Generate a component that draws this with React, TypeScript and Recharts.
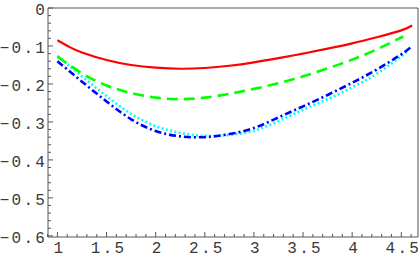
import { Line, LineChart, ReferenceArea, XAxis, YAxis } from "recharts";

const redX = [1, 1.125, 1.25, 1.5, 1.75, 2, 2.25, 2.5, 2.75, 3, 3.25, 3.5, 3.75, 4, 4.25, 4.5, 4.61];
const redY = [-0.085, -0.103, -0.117, -0.137, -0.15, -0.157, -0.16, -0.158, -0.152, -0.143, -0.132, -0.12, -0.107, -0.093, -0.077, -0.059, -0.046];

const greenX = [1, 1.25, 1.5, 1.75, 2, 2.25, 2.5, 2.75, 3, 3.25, 3.5, 3.75, 4, 4.25, 4.52];
const greenY = [-0.128, -0.172, -0.204, -0.224, -0.236, -0.24, -0.236, -0.226, -0.213, -0.198, -0.18, -0.159, -0.136, -0.109, -0.075];

const cyanX = [1, 1.25, 1.5, 1.75, 2, 2.25, 2.5, 2.75, 3, 3.25, 3.5, 3.75, 4, 4.25, 4.5, 4.56];
const cyanY = [-0.126, -0.18, -0.232, -0.279, -0.311, -0.329, -0.337, -0.334, -0.323, -0.298, -0.268, -0.24, -0.209, -0.173, -0.127, -0.113];

const blueX = [1, 1.25, 1.5, 1.75, 2, 2.25, 2.5, 2.75, 3, 3.25, 3.5, 3.75, 4, 4.25, 4.5, 4.6];
const blueY = [-0.14, -0.194, -0.246, -0.293, -0.324, -0.338, -0.34, -0.332, -0.316, -0.288, -0.259, -0.229, -0.197, -0.162, -0.122, -0.102];

const xMajor = [1, 1.5, 2, 2.5, 3, 3.5, 4, 4.5];
const yMajor = [0, -0.1, -0.2, -0.3, -0.4, -0.5, -0.6];

const X_DOMAIN: [number, number] = [0.904, 4.67];
const Y_DOMAIN: [number, number] = [-0.603, 0];

// minor ticks: 4 between each pair of major ticks
const xTicks: number[] = [];
for (let i = 9; i <= 46; i++) xTicks.push(i / 10);
const yTicks: number[] = [];
for (let i = 0; i <= 30; i++) yTicks.push(-(i * 2) / 100);

const toRows = (xs: number[], ys: number[]) => xs.map((x, i) => ({ x, y: ys[i] }));

const isMajor = (v: number, majors: number[]) => majors.some((m) => Math.abs(m - v) < 1e-6);

const fmt = (v: number) => (v < 0 ? "\u2212" + String(-v) : String(v));

const FRAME = "#555";
const TEXT = "#3a3a3a";

function FrameTick(props: any) {
  const { x, y, payload, side, majors, labels } = props;
  const major = isMajor(payload.value, majors);
  const len = major ? 5 : 3;
  let line;
  if (side === "bottom") line = <line x1={x} y1={y} x2={x} y2={y - len} stroke={FRAME} strokeWidth={1} />;
  else if (side === "top") line = <line x1={x} y1={y} x2={x} y2={y + len} stroke={FRAME} strokeWidth={1} />;
  else if (side === "left") line = <line x1={x} y1={y} x2={x + len} y2={y} stroke={FRAME} strokeWidth={1} />;
  else line = <line x1={x} y1={y} x2={x - len} y2={y} stroke={FRAME} strokeWidth={1} />;
  let label = null;
  if (labels && major) {
    const common = {
      fill: TEXT,
      fontFamily: "Liberation Mono, monospace",
      fontSize: 16,
      letterSpacing: 2.2
    };
    if (side === "bottom")
      label = (
        <text x={x + 2} y={y + 16} textAnchor="middle" {...common}>
          {fmt(payload.value)}
        </text>
      );
    if (side === "left")
      label = (
        <text x={x - 1} y={y + 7} textAnchor="end" {...common}>
          {fmt(payload.value)}
        </text>
      );
  }
  return (
    <g>
      {line}
      {label}
    </g>
  );
}

export default function App() {
  return (
    <div style={{ position: "absolute", left: 0, top: 0, width: 420, height: 260, background: "#fff" }}>
      <LineChart width={420} height={260} margin={{ top: 8, right: 2, bottom: 0, left: 0 }}>
        <XAxis
          xAxisId="b"
          type="number"
          dataKey="x"
          domain={X_DOMAIN}
          allowDataOverflow
          ticks={xTicks}
          interval={0}
          height={23}
          tickSize={0}
          tickMargin={0}
          axisLine={false}
          tickLine={false}
          tick={<FrameTick side="bottom" majors={xMajor} labels />}
        />
        <XAxis
          xAxisId="t"
          orientation="top"
          type="number"
          dataKey="x"
          domain={X_DOMAIN}
          allowDataOverflow
          ticks={xTicks}
          interval={0}
          height={0}
          tickSize={0}
          tickMargin={0}
          axisLine={false}
          tickLine={false}
          tick={<FrameTick side="top" majors={xMajor} />}
        />
        <YAxis
          yAxisId="l"
          type="number"
          domain={Y_DOMAIN}
          allowDataOverflow
          ticks={yTicks}
          interval={0}
          width={48}
          tickSize={0}
          tickMargin={0}
          axisLine={false}
          tickLine={false}
          tick={<FrameTick side="left" majors={yMajor} labels />}
        />
        <YAxis
          yAxisId="r"
          orientation="right"
          type="number"
          domain={Y_DOMAIN}
          allowDataOverflow
          ticks={yTicks}
          interval={0}
          width={0}
          tickSize={0}
          tickMargin={0}
          axisLine={false}
          tickLine={false}
          tick={<FrameTick side="right" majors={yMajor} />}
        />
        <ReferenceArea
          xAxisId="b"
          yAxisId="l"
          x1={X_DOMAIN[0]}
          x2={X_DOMAIN[1]}
          y1={Y_DOMAIN[0]}
          y2={Y_DOMAIN[1]}
          fill="none"
          fillOpacity={0}
          stroke={FRAME}
          strokeWidth={1}
          strokeOpacity={1}
          ifOverflow="visible"
        />
        <Line xAxisId="b" yAxisId="l" data={toRows(cyanX, cyanY)} dataKey="y" type="natural" stroke="#00ffff" strokeWidth={2.6} strokeDasharray="2 2.4" dot={false} isAnimationActive={false} />
        <Line xAxisId="b" yAxisId="l" data={toRows(blueX, blueY)} dataKey="y" type="natural" stroke="#0000ff" strokeWidth={2.6} strokeDasharray="7 3 2 3" dot={false} isAnimationActive={false} />
        <Line xAxisId="b" yAxisId="l" data={toRows(greenX, greenY)} dataKey="y" type="natural" stroke="#00ff00" strokeWidth={2.6} strokeDasharray="11 6" dot={false} isAnimationActive={false} />
        <Line xAxisId="b" yAxisId="l" data={toRows(redX, redY)} dataKey="y" type="natural" stroke="#ff0000" strokeWidth={2.2} dot={false} isAnimationActive={false} />
      </LineChart>
    </div>
  );
}
